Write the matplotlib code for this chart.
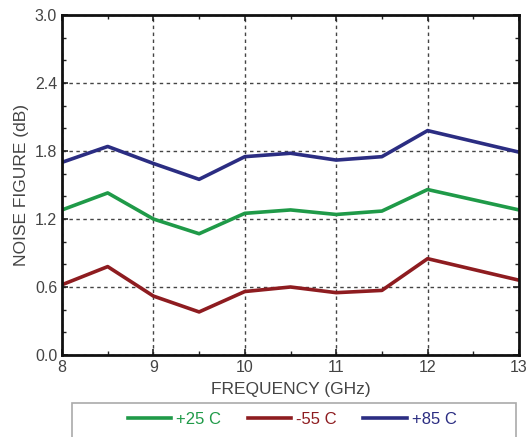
import matplotlib
matplotlib.use("Agg")
import matplotlib.pyplot as plt
from matplotlib.patches import Rectangle
from matplotlib.ticker import MultipleLocator

plt.rcParams["font.family"] = ["Liberation Sans", "DejaVu Sans"]

# Noise figure vs frequency at three temperatures
freq = [8, 8.5, 9, 9.5, 10, 10.5, 11, 11.5, 12, 13]
nf_25 = [1.28, 1.43, 1.20, 1.07, 1.25, 1.28, 1.24, 1.27, 1.46, 1.28]
nf_m55 = [0.62, 0.78, 0.52, 0.38, 0.56, 0.60, 0.55, 0.57, 0.85, 0.66]
nf_85 = [1.70, 1.84, 1.69, 1.55, 1.75, 1.78, 1.72, 1.75, 1.98, 1.79]

labels = ["+25 C", "-55 C", "+85 C"]
colors = ["#1f9a48", "#8e1c20", "#2b2d82"]

fig = plt.figure(figsize=(5.29, 4.37), dpi=100)
ax = fig.add_axes([62 / 529, 82 / 437, 457 / 529, 340 / 437])

lines = []
for ys, lab, col in zip([nf_25, nf_m55, nf_85], labels, colors):
    (ln,) = ax.plot(freq, ys, color=col, lw=2.6, label=lab)
    lines.append(ln)

ax.set_xlim(8, 13)
ax.set_ylim(0, 3.0)
ax.xaxis.set_major_locator(MultipleLocator(1))
ax.xaxis.set_minor_locator(MultipleLocator(0.5))
ax.yaxis.set_major_locator(MultipleLocator(0.6))
ax.yaxis.set_minor_locator(MultipleLocator(0.2))
ax.yaxis.set_major_formatter(plt.FuncFormatter(lambda v, p: f"{v:.1f}"))
ax.tick_params(which="both", direction="in", top=True, right=True,
               labelsize=11.5, labelcolor="#444444", color="#222222")
ax.tick_params(which="major", length=4, width=1.2)
ax.tick_params(which="minor", length=3, width=1.0)
ax.grid(True, which="major", linestyle=(0, (2.5, 2.5)), color="#444444", lw=1.0)
for s in ax.spines.values():
    s.set_linewidth(2.0)
    s.set_color("#111111")

ax.set_xlabel("FREQUENCY (GHz)", fontsize=12.5, color="#444444", labelpad=5)
ax.set_ylabel("NOISE FIGURE (dB)", fontsize=12.5, color="#444444", labelpad=4)

# legend box below the axes
fig.patches.append(Rectangle((72 / 529, -0.01), 444 / 529, 38 / 437,
                             transform=fig.transFigure, facecolor="white",
                             edgecolor="#aaaaaa", lw=1.2))
leg = fig.legend(handles=lines, loc="center", bbox_to_anchor=(292 / 529, 18 / 437),
                 ncol=3, fontsize=12, frameon=False, handlelength=2.6,
                 handletextpad=0.3, columnspacing=1.6)
for txt, col in zip(leg.get_texts(), colors):
    txt.set_color(col)

fig.savefig("out.png", dpi=100)
